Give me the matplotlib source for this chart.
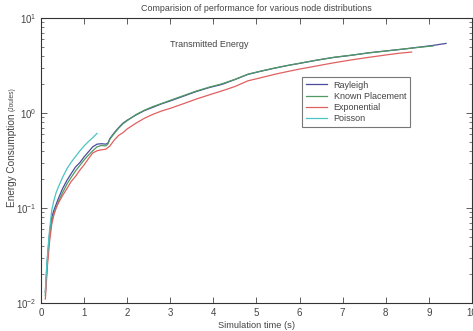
import numpy as np
import matplotlib
matplotlib.use('Agg')
import matplotlib.pyplot as plt

plt.rcParams['font.family'] = ['Liberation Sans', 'DejaVu Sans']

# energy consumption curves (Joules) against simulation time (s)
t_rayleigh = [0.10, 0.15, 0.20, 0.25, 0.30, 0.40, 0.50, 0.60, 0.70, 0.80, 0.90, 1.00, 1.10, 1.20, 1.30, 1.40,
              1.50, 1.55, 1.60, 1.70, 1.80, 1.90, 2.00, 2.20, 2.40, 2.60, 2.80, 3.00, 3.30, 3.60, 3.90, 4.20,
              4.50, 4.80, 5.10, 5.40, 5.70, 6.00, 6.40, 6.80, 7.20, 7.60, 8.00, 8.40, 8.80, 9.10, 9.40]
e_rayleigh = [0.013, 0.030, 0.055, 0.080, 0.095, 0.125, 0.160, 0.195, 0.230, 0.270, 0.300, 0.345, 0.390, 0.440,
              0.470, 0.475, 0.470, 0.480, 0.540, 0.620, 0.700, 0.780, 0.840, 0.950, 1.060, 1.150, 1.250, 1.340,
              1.500, 1.680, 1.850, 2.000, 2.250, 2.550, 2.750, 2.950, 3.150, 3.330, 3.600, 3.850, 4.050, 4.300,
              4.500, 4.700, 4.950, 5.150, 5.400]

t_known = t_rayleigh[:-1]
e_known = [0.012, 0.028, 0.050, 0.072, 0.088, 0.115, 0.145, 0.178, 0.210, 0.245, 0.280, 0.320, 0.360, 0.400,
           0.440, 0.455, 0.450, 0.470, 0.530, 0.610, 0.690, 0.770, 0.830, 0.960, 1.070, 1.170, 1.260, 1.360,
           1.520, 1.700, 1.870, 2.030, 2.260, 2.560, 2.760, 2.960, 3.150, 3.340, 3.600, 3.860, 4.060, 4.290,
           4.490, 4.710, 4.930, 5.080]

t_expo = [0.10, 0.15, 0.20, 0.25, 0.30, 0.35, 0.40, 0.50, 0.60, 0.70, 0.80, 0.90, 1.00, 1.10, 1.20, 1.30,
          1.40, 1.50, 1.60, 1.70, 1.80, 1.90, 2.00, 2.20, 2.40, 2.60, 2.80, 3.00, 3.30, 3.60, 3.90, 4.20,
          4.50, 4.80, 5.10, 5.40, 5.70, 6.00, 6.40, 6.80, 7.20, 7.60, 8.00, 8.30, 8.60]
e_expo = [0.011, 0.025, 0.045, 0.068, 0.085, 0.100, 0.112, 0.135, 0.160, 0.190, 0.215, 0.250, 0.285, 0.330,
          0.380, 0.400, 0.410, 0.415, 0.450, 0.520, 0.580, 0.620, 0.680, 0.780, 0.880, 0.970, 1.050, 1.120,
          1.250, 1.400, 1.550, 1.710, 1.900, 2.180, 2.350, 2.540, 2.720, 2.900, 3.130, 3.380, 3.620, 3.850,
          4.080, 4.250, 4.380]

t_poisson = [0.10, 0.12, 0.15, 0.18, 0.20, 0.25, 0.30, 0.35, 0.40, 0.50, 0.60, 0.70, 0.80, 0.90, 1.00,
             1.10, 1.20, 1.30]
e_poisson = [0.013, 0.020, 0.032, 0.047, 0.060, 0.095, 0.120, 0.145, 0.165, 0.210, 0.258, 0.303, 0.348,
             0.398, 0.450, 0.500, 0.550, 0.610]

fig = plt.figure(figsize=(4.73, 3.31), dpi=100)
ax = fig.add_axes([0.0867, 0.0846, 0.911, 0.861])

ax.semilogy(t_rayleigh, e_rayleigh, color='#4b4b9e', lw=0.9, label='Rayleigh')
ax.semilogy(t_known, e_known, color='#4f9a62', lw=0.9, label='Known Placement')
ax.semilogy(t_expo, e_expo, color='#e06060', lw=0.9, label='Exponential')
ax.semilogy(t_poisson, e_poisson, color='#4cc4c4', lw=0.9, label='Poisson')

ax.set_xlim(0, 10)
ax.set_ylim(0.01, 10)
ax.set_xticks(np.arange(0, 11, 1))
ax.tick_params(which='both', direction='in', top=True, right=True, labelsize=7, colors='#444444')
ax.tick_params(which='major', length=4, width=0.6)
ax.tick_params(which='minor', length=2, width=0.5)
for s in ax.spines.values():
    s.set_color('#333333')
    s.set_linewidth(0.8)

ax.set_title('Comparision of performance for various node distributions', fontsize=6.4, color='#444444', pad=5)
ax.set_xlabel('Simulation time (s)', fontsize=6.7, color='#444444', labelpad=2)

# y label: main words plus a smaller unit part stacked above
ylab = fig.text(0.026, 0.375, 'Energy Consumption ', rotation=90, fontsize=7.2, color='#444444',
                ha='center', va='bottom')
ax.annotate('(Joules)', xy=(0.5, 1.0), xycoords=ylab, rotation=90, fontsize=4.8, color='#444444',
            ha='center', va='bottom', annotation_clip=False)

ax.text(2.99, 5.2, 'Transmitted Energy', fontsize=6.5, color='#444444', va='center')

leg = ax.legend(loc='upper left', bbox_to_anchor=(0.606, 0.793), fontsize=6.5, fancybox=False,
                framealpha=1, edgecolor='#777777', handlelength=2.3, borderpad=0.4,
                labelspacing=0.25, borderaxespad=0)
for txt in leg.get_texts():
    txt.set_color('#444444')
leg.get_frame().set_linewidth(0.8)

fig.savefig('out.png', dpi=100)
